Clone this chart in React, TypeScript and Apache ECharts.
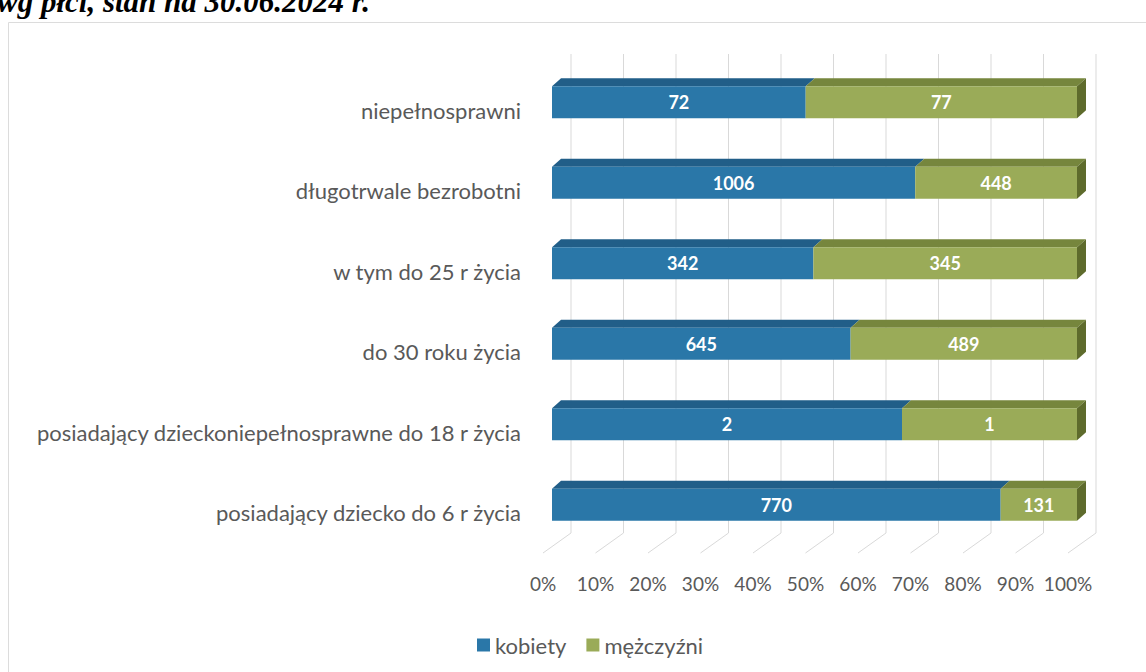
import React, { useEffect, useRef } from "react";
import * as echarts from "echarts";

const titleText = "wg płci, stan na 30.06.2024 r.";
const categories = [
  "posiadający dziecko do 6 r życia",
  "posiadający dzieckoniepełnosprawne do 18 r życia",
  "do 30 roku życia",
  "w tym do 25 r życia",
  "długotrwale bezrobotni",
  "niepełnosprawni",
];
const kobiety = [770, 2, 645, 342, 1006, 72];
const mezczyzni = [131, 1, 489, 345, 448, 77];
const seriesNames = ["kobiety", "mężczyźni"];
const tickValues = [0, 10, 20, 30, 40, 50, 60, 70, 80, 90, 100];

const FONT = "Lato, 'Open Sans', sans-serif";

const COLORS = {
  kobiety: { front: "#2a77a8", top: "#215e88", side: "#1a4f74" },
  mezczyzni: { front: "#9aab58", top: "#76863d", side: "#5e6b2c" },
};

const DX = 9;
const DY = 8;
const WX = 28;
const WY = 20;

function barRenderer(col: { front: string; top: string; side: string }) {
  return (params: any, api: any) => {
    const cat = api.value(0);
    const s = api.value(1);
    const e = api.value(2);
    const cnt = api.value(3);
    const p0 = api.coord([s, cat]);
    const p1 = api.coord([e, cat]);
    const band = api.size([0, 1])[1];
    const h = band * 0.4;
    const x0 = p0[0] + DX;
    const x1 = p1[0] + DX;
    const yc = p0[1] - DY;
    const yT = yc - h / 2;
    const yB = yc + h / 2;
    const children: any[] = [
      {
        type: "polygon",
        shape: { points: [[x0, yT], [x0 + DX, yT - DY], [x1 + DX, yT - DY], [x1, yT]] },
        style: { fill: col.top },
      },
      {
        type: "rect",
        shape: { x: x0, y: yT, width: x1 - x0, height: h },
        style: { fill: col.front },
      },
    ];
    if (e >= 100) {
      children.push({
        type: "polygon",
        shape: { points: [[x1, yT], [x1 + DX, yT - DY], [x1 + DX, yB - DY], [x1, yB]] },
        style: { fill: col.side },
      });
    }
    children.push({
      type: "text",
      style: {
        text: String(cnt),
        x: (x0 + x1) / 2,
        y: yc,
        align: "center",
        verticalAlign: "middle",
        fill: "#ffffff",
        font: `bold 18px ${FONT}`,
      },
    });
    return { type: "group", children };
  };
}

export default function App() {
  const ref = useRef<HTMLDivElement>(null);
  useEffect(() => {
    if (!ref.current) return;
    const chart = echarts.init(ref.current, undefined, { renderer: "svg" });
    const kData = categories.map((_, i) => {
      const tot = kobiety[i] + mezczyzni[i];
      return [i, 0, (kobiety[i] / tot) * 100, kobiety[i]];
    });
    const mData = categories.map((_, i) => {
      const tot = kobiety[i] + mezczyzni[i];
      return [i, (kobiety[i] / tot) * 100, 100, mezczyzni[i]];
    });
    chart.setOption({
      animation: false,
      backgroundColor: "#ffffff",
      graphic: [
        {
          type: "rect",
          z: -10,
          shape: { x: 8.5, y: 22.5, width: 1200, height: 800 },
          style: { fill: "none", stroke: "#dcdcdc", lineWidth: 1 },
        },
        {
          type: "text",
          x: -3,
          y: -14,
          style: {
            text: titleText,
            font: "italic bold 31px 'Liberation Serif', 'DejaVu Serif', serif",
            fill: "#000000",
          },
        },
      ],
      grid: { left: 543, right: 78, top: 70, bottom: 119, containLabel: false },
      legend: {
        data: seriesNames,
        left: 472,
        top: 629,
        icon: "rect",
        itemWidth: 13,
        itemHeight: 13,
        itemGap: 20,
        textStyle: { color: "#595959", fontSize: 22, fontFamily: FONT },
      },
      xAxis: {
        type: "value",
        min: 0,
        max: 100,
        interval: 10,
        axisLine: { show: false },
        axisTick: { show: false },
        splitLine: { show: false },
        axisLabel: {
          formatter: "{value}%",
          color: "#595959",
          fontSize: 19,
          fontFamily: FONT,
          margin: 21,
        },
      },
      yAxis: {
        type: "category",
        data: categories,
        axisLine: { show: false },
        axisTick: { show: false },
        splitLine: { show: false },
        axisLabel: {
          color: "#595959",
          fontSize: 22,
          fontFamily: FONT,
          margin: 22,
        },
      },
      series: [
        {
          type: "custom",
          name: "grid",
          silent: true,
          encode: { x: 0, y: 1 },
          data: tickValues.map((v) => [v, 0]),
          renderItem: (params: any, api: any) => {
            const v = api.value(0);
            const p = api.coord([v, 0]);
            const cs = params.coordSys;
            const x = p[0];
            const top = cs.y;
            const bottom = cs.y + cs.height;
            return {
              type: "polyline",
              shape: {
                points: [
                  [x + WX, top - WY + 4],
                  [x + WX, bottom - WY],
                  [x, bottom],
                ],
              },
              style: { stroke: "#d9d9d9", lineWidth: 1, fill: "none" },
            };
          },
        },
        {
          type: "custom",
          name: seriesNames[0],
          itemStyle: { color: COLORS.kobiety.front },
          encode: { x: [1, 2], y: 0 },
          data: kData,
          renderItem: barRenderer(COLORS.kobiety),
        },
        {
          type: "custom",
          name: seriesNames[1],
          itemStyle: { color: COLORS.mezczyzni.front },
          encode: { x: [1, 2], y: 0 },
          data: mData,
          renderItem: barRenderer(COLORS.mezczyzni),
        },
      ],
    });
    return () => chart.dispose();
  }, []);
  return (
    <div
      ref={ref}
      style={{ position: "absolute", left: 0, top: 0, width: 1146, height: 672 }}
    />
  );
}
